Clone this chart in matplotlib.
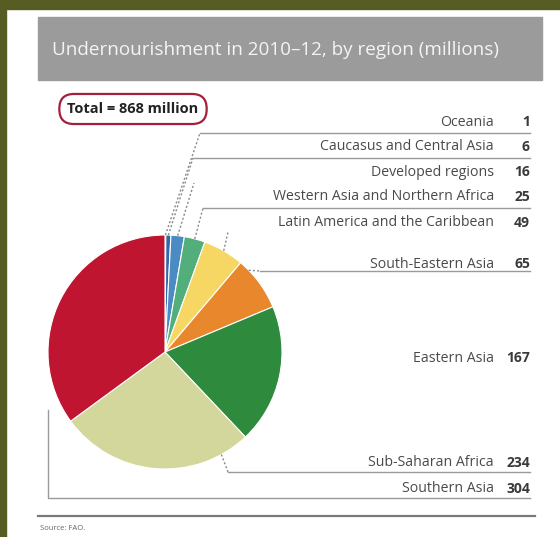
import numpy as np
import matplotlib.pyplot as plt
from matplotlib.patches import Rectangle

regions = ["Oceania", "Caucasus and Central Asia", "Developed regions",
           "Western Asia and Northern Africa", "Latin America and the Caribbean",
           "South-Eastern Asia", "Eastern Asia", "Sub-Saharan Africa", "Southern Asia"]
values = [1, 6, 16, 25, 49, 65, 167, 234, 304]
total_label = "Total = 868 million"
colors = ["#ece6f2", "#3469a9", "#4b8bc4", "#52ae7a", "#f7d764",
          "#e8872b", "#2e8a3c", "#d3d79b", "#bf1530"]

W, H = 560, 537
fig = plt.figure(figsize=(W / 100, H / 100), dpi=100)
fig.patch.set_facecolor("white")
ax = fig.add_axes([0, 0, 1, 1])

# frame
ax.add_patch(Rectangle((0, 0), W, 9, color="#575c23", zorder=0))
ax.add_patch(Rectangle((0, 0), 6, H, color="#575c23", zorder=0))
ax.add_patch(Rectangle((38, 17), 504, 63, color="#9b9b9b", zorder=1))
ax.text(52, 50, "Undernourishment in 2010\u201312, by region (millions)",
        color="#f4f4f4", fontsize=13.6, va="center", ha="left", family="Open Sans")

# pie (y axis is flipped, so counterclock in data = clockwise on screen)
cx, cy, r = 165, 352, 117
ax.pie(values, colors=colors, startangle=-90, counterclock=True,
       center=(cx, cy), radius=r,
       wedgeprops=dict(edgecolor="white", linewidth=0.8))
ax.set_xlim(0, W)
ax.set_ylim(H, 0)
ax.axis("off")

tot = sum(values)
cum = np.cumsum([0] + values)
def edge_pt(i, frac=0.5):
    th = np.radians(360 * (cum[i] + frac * values[i]) / tot)
    return cx + r * np.sin(th), cy - r * np.cos(th)

# labels
label_y = [122, 147, 172, 197, 223, 264, 358, 463, 489]
for name, v, y in zip(regions, values, label_y):
    ax.text(494, y, name, ha="right", va="center", fontsize=10.2,
            color="#4a4a4a", family="Open Sans")
    ax.text(530, y, str(v), ha="right", va="center", fontsize=10,
            color="#3a3a3a", family="Open Sans", fontweight="bold")

line_kw = dict(color="#9a9a9a", lw=1.0)
dot_kw = dict(color="#8a8a8a", lw=1.0, ls=(0, (1.5, 1.5)))

# Oceania
px, py = edge_pt(0)
ax.plot([px, 200], [py, 133], **dot_kw)
ax.plot([200, 530], [133, 133], **line_kw)
# Caucasus
px, py = edge_pt(1)
ax.plot([px, 193], [py, 158], **dot_kw)
ax.plot([193, 530], [158, 158], **line_kw)
# Developed
px, py = edge_pt(2)
ax.plot([px, 194], [py, 183], **dot_kw)
# Western Asia
px, py = edge_pt(3)
ax.plot([px, 203], [py, 208], **dot_kw)
ax.plot([203, 530], [208, 208], **line_kw)
# Latin America
px, py = edge_pt(4)
ax.plot([px, 228], [py, 232], **dot_kw)
# South-Eastern Asia
px, py = edge_pt(5, 0.2)
ax.plot([px, 260], [py, 271], **dot_kw)
ax.plot([260, 530], [271, 271], **line_kw)
# Sub-Saharan Africa
px, py = edge_pt(7, 0.15)
ax.plot([px, 228], [py, 472], **dot_kw)
ax.plot([228, 530], [472, 472], **line_kw)
# Southern Asia
px, py = edge_pt(8, 0.05)
ax.plot([48, 48, 530], [py, 498, 498], **line_kw)

# total box
ax.text(133, 109, total_label, ha="center", va="center", fontsize=10.5,
        fontweight="bold", color="#222222", family="Open Sans",
        bbox=dict(boxstyle="round,pad=0.55,rounding_size=1.0", fc="white",
                  ec="#a3203a", lw=1.6))

# bottom rule and source
ax.plot([38, 535], [516, 516], color="#7a7a7a", lw=1.6)
ax.text(40, 529, "Source: FAO.", ha="left", va="center", fontsize=5.5,
        color="#666666", family="Open Sans")

fig.savefig("out.png", dpi=100)
